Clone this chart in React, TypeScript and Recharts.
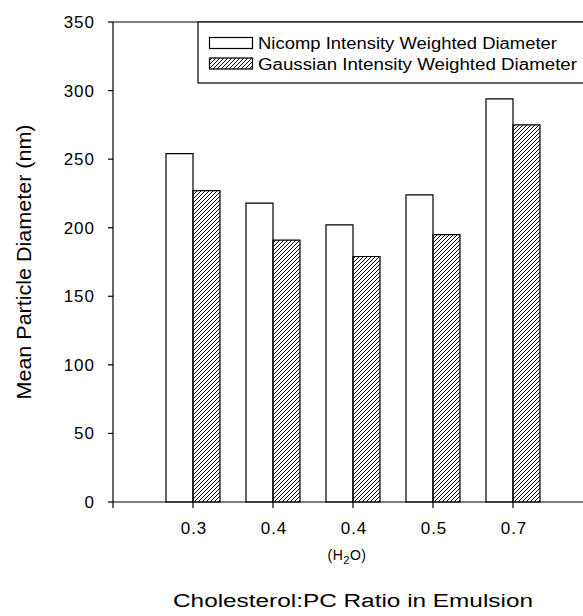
import React from "react";
import { ComposedChart, Bar, XAxis, YAxis, ReferenceLine } from "recharts";

const categories = ["0.3", "0.4", "0.4", "0.5", "0.7"];
const nicompDiameter = [254, 218, 202, 224, 294];
const gaussianDiameter = [227, 191, 179, 195, 275];
const yTicks = [0, 50, 100, 150, 200, 250, 300, 350];
const xTicks = [0, 1, 2, 3, 4, 5];
const seriesNames = ["Nicomp Intensity Weighted Diameter", "Gaussian Intensity Weighted Diameter"];

const FONT = "'Liberation Sans', Arial, Helvetica, sans-serif";

const data = categories.map((label, i) => ({
  pos: i + 1,
  label,
  nicomp: nicompDiameter[i],
  gaussian: gaussianDiameter[i],
}));

// hatch pattern: thin "/" lines
const Hatch = ({ id }: { id: string }) => (
  <pattern id={id} patternUnits="userSpaceOnUse" width={4} height={4}>
    <path d="M-1,1 l2,-2 M0,4 l4,-4 M3,5 l2,-2" stroke="#000" strokeWidth={1} />
  </pattern>
);

const XTick = (props: any) => {
  const { x, y, payload } = props;
  const v = payload.value as number;
  if (v === 0) return null;
  return (
    <g>
      <text x={x + 1} y={y + 24} textAnchor="middle" fontSize={17} letterSpacing={1} fontFamily={FONT} fill="#000">
        {categories[v - 1]}
      </text>
      {v === 3 && (
        <text x={x - 6} y={y + 50} textAnchor="middle" fontSize={14} letterSpacing={0.5} fontFamily={FONT} fill="#000">
          (H<tspan fontSize={11} dy={4}>2</tspan>
          <tspan dy={-4}>O)</tspan>
        </text>
      )}
    </g>
  );
};

const XTitle = () => (
  <text x={353} y={607} textAnchor="middle" fontSize={18} textLength={360} lengthAdjust="spacingAndGlyphs" fontFamily={FONT} fill="#000">
    Cholesterol:PC Ratio in Emulsion
  </text>
);

const YTitle = (props: any) => {
  const { viewBox } = props;
  const cy = viewBox.y + viewBox.height / 2;
  return (
    <text
      x={31}
      y={cy}
      transform={`rotate(-90, 31, ${cy})`}
      textAnchor="middle"
      fontSize={20}
      textLength={275}
      lengthAdjust="spacingAndGlyphs"
      fontFamily={FONT}
      fill="#000"
    >
      Mean Particle Diameter  (nm)
    </text>
  );
};

export default function App() {
  return (
    <div style={{ position: "absolute", left: 0, top: 0, width: 583, height: 616, overflow: "hidden", background: "#fff" }}>
      <ComposedChart
        width={600}
        height={616}
        data={data}
        margin={{ top: 22, right: 7, left: 0, bottom: 84 }}
        barGap={0}
      >
        <defs>
          <Hatch id="hatch" />
        </defs>
        <XAxis
          dataKey="pos"
          type="number"
          domain={[0, 6]}
          ticks={xTicks}
          allowDataOverflow
          height={30}
          axisLine={{ stroke: "#000", strokeWidth: 1.2 }}
          tickLine={{ stroke: "#000", strokeWidth: 1.2 }}
          tickSize={6}
          tick={<XTick />}
          label={<XTitle />}
        />
        <YAxis
          type="number"
          domain={[0, 350]}
          ticks={yTicks}
          width={113}
          axisLine={{ stroke: "#000", strokeWidth: 1.2 }}
          tickLine={{ stroke: "#000", strokeWidth: 1.2 }}
          tickSize={5}
          tickMargin={13}
          tick={{ fill: "#000", fontSize: 17, letterSpacing: 1, fontFamily: FONT }}
          label={<YTitle />}
        />
        <ReferenceLine y={350} stroke="#000" strokeWidth={1.2} />
        <Bar dataKey="nicomp" barSize={27} fill="#fff" stroke="#000" strokeWidth={1.2} isAnimationActive={false} />
        <Bar dataKey="gaussian" barSize={27} fill="url(#hatch)" stroke="#000" strokeWidth={1.2} isAnimationActive={false} />
      </ComposedChart>
      <svg width={400} height={64} style={{ position: "absolute", left: 197, top: 21 }}>
        <defs>
          <Hatch id="legendHatch" />
        </defs>
        <rect x={1} y={1} width={420} height={61} fill="#fff" stroke="#000" strokeWidth={1.2} />
        <rect x={12.5} y={16.5} width={43} height={11} fill="#fff" stroke="#000" strokeWidth={1.2} />
        <rect x={12.5} y={37} width={43} height={11} fill="url(#legendHatch)" stroke="#000" strokeWidth={1.2} />
        <text x={61} y={27.5} fontSize={16} textLength={299} lengthAdjust="spacingAndGlyphs" fontFamily={FONT} fill="#000">
          {seriesNames[0]}
        </text>
        <text x={61} y={48.5} fontSize={16} textLength={319} lengthAdjust="spacingAndGlyphs" fontFamily={FONT} fill="#000">
          {seriesNames[1]}
        </text>
      </svg>
    </div>
  );
}
